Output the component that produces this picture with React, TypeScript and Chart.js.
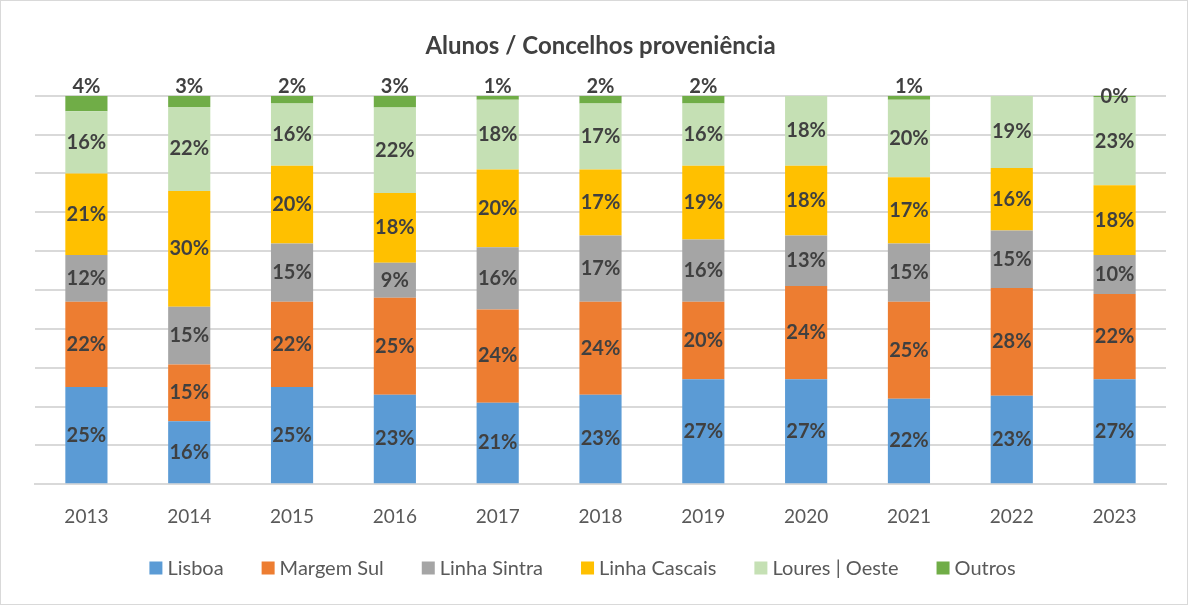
import React, { useEffect, useRef } from "react";
import { Chart, registerables } from "chart.js";

Chart.register(...registerables);

const years = ["2013", "2014", "2015", "2016", "2017", "2018", "2019", "2020", "2021", "2022", "2023"];
const lisboa = [25, 16.2, 25, 23, 21, 23, 27, 27, 22, 22.8, 27];
const margemSul = [22, 14.6, 22, 25, 24, 24, 20, 24, 25, 27.7, 22];
const linhaSintra = [12, 14.9, 15, 9, 16, 17, 16, 13, 15, 14.8, 10];
const linhaCascais = [21, 29.8, 20, 18, 20, 17, 19, 18, 17, 16.1, 18];
const louresOeste = [16, 21.6, 16, 22, 18, 17, 16, 18, 20, 18.6, 22.7];
const outros = [4, 2.9, 2, 3, 1, 2, 2, 0, 1, 0, 0.3];

const seriesNames = ["Lisboa", "Margem Sul", "Linha Sintra", "Linha Cascais", "Loures | Oeste", "Outros"];
const seriesColors = ["#5B9BD5", "#ED7D31", "#A5A5A5", "#FFC000", "#C5E0B4", "#70AD47"];

const FONT = "Lato, 'Open Sans', sans-serif";

const labelPlugin = {
  id: "segLabels",
  afterDatasetsDraw(chart: any) {
    const ctx = chart.ctx;
    ctx.save();
    ctx.font = `bold 20px ${FONT}`;
    ctx.fillStyle = "#404040";
    ctx.textAlign = "center";
    ctx.textBaseline = "middle";
    const n = chart.data.datasets.length;
    chart.data.datasets.forEach((ds: any, di: number) => {
      const meta = chart.getDatasetMeta(di);
      meta.data.forEach((bar: any, i: number) => {
        const v = ds.data[i];
        if (!v) return;
        const txt = Math.round(v) + "%";
        let y = (bar.y + bar.base) / 2;
        if (di === n - 1 && v >= 1) y = bar.y - 9;
        ctx.fillText(txt, bar.x, y);
      });
    });
    ctx.restore();
  },
};

const legendPlugin = {
  id: "customLegend",
  afterDraw(chart: any) {
    const ctx = chart.ctx;
    ctx.save();
    ctx.font = `20px ${FONT}`;
    ctx.textBaseline = "middle";
    ctx.textAlign = "left";
    const box = 13;
    const gap = 5;
    const itemGap = 38;
    const items = chart.data.datasets.map((ds: any) => ({
      label: ds.label,
      color: ds.backgroundColor,
      w: ctx.measureText(ds.label).width,
    }));
    const total =
      items.reduce((s: number, it: any) => s + box + gap + it.w, 0) + itemGap * (items.length - 1);
    const cx = (chart.chartArea.left + chart.chartArea.right) / 2 - 18;
    let x = cx - total / 2;
    const y = 568;
    items.forEach((it: any) => {
      ctx.fillStyle = it.color;
      ctx.fillRect(x, y - box / 2, box, box);
      ctx.fillStyle = "#595959";
      ctx.fillText(it.label, x + box + gap, y + 1);
      x += box + gap + it.w + itemGap;
    });
    ctx.restore();
  },
};

const framePlugin = {
  id: "frame",
  beforeDraw(chart: any) {
    const ctx = chart.ctx;
    ctx.save();
    ctx.fillStyle = "#ffffff";
    ctx.fillRect(0, 0, chart.width, chart.height);
    ctx.strokeStyle = "#d9d9d9";
    ctx.lineWidth = 1;
    ctx.strokeRect(0.5, 0.5, chart.width - 1, chart.height - 1);
    ctx.restore();
  },
};

export default function App() {
  const ref = useRef<HTMLCanvasElement>(null);
  useEffect(() => {
    document.body.style.margin = "0";
    const seriesData = [lisboa, margemSul, linhaSintra, linhaCascais, louresOeste, outros];
    const chart = new Chart(ref.current!, {
      type: "bar",
      data: {
        labels: years,
        datasets: seriesNames.map((name, k) => ({
          label: name,
          data: seriesData[k],
          backgroundColor: seriesColors[k],
          borderWidth: 0,
          barPercentage: 0.41,
          categoryPercentage: 1,
        })),
      },
      options: {
        animation: false,
        responsive: false,
        maintainAspectRatio: false,
        layout: { padding: { left: 35, right: 22, top: 0, bottom: 56 } },
        plugins: {
          title: {
            display: true,
            text: "Alunos / Concelhos proveniência",
            color: "#404040",
            font: { family: FONT, size: 24, weight: "bold" },
            padding: { top: 32, bottom: 35 },
          },
          legend: { display: false },
          tooltip: { enabled: false },
        },
        scales: {
          x: {
            stacked: true,
            grid: { display: false, drawTicks: false },
            border: { display: true, color: "#d9d9d9", width: 2 },
            ticks: { color: "#595959", font: { family: FONT, size: 19 }, padding: 21 },
          },
          y: {
            stacked: true,
            min: 0,
            max: 100,
            ticks: { display: false, stepSize: 10 },
            grid: { color: "#d9d9d9", lineWidth: 2, drawTicks: false },
            border: { display: false },
          },
        },
      },
      plugins: [framePlugin, labelPlugin, legendPlugin],
    });
    return () => chart.destroy();
  }, []);
  return <canvas ref={ref} width={1188} height={605} style={{ display: "block" }} />;
}
